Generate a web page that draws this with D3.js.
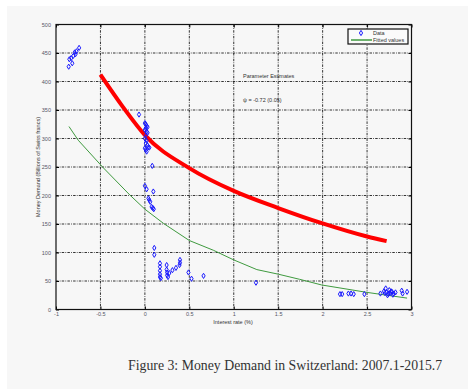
<!DOCTYPE html>
<html lang="en">
<head>
  <meta charset="UTF-8">
  <title>money demand</title>
  <script src="https://d3js.org/d3.v7.min.js"></script>
  <style>
    body { margin: 0; background: #fff; }
    .lbl { font-family: "Liberation Sans", Arial, sans-serif; }
  </style>
</head>
<body>
<svg width="468" height="391"></svg>
<script>
  // data
  var dataX = [-0.74, -0.79, -0.78, -0.805, -0.85, -0.817, -0.857, -0.83, -0.77,
    -0.066, 0, 0.01, 0.02, 0.03, 0.01, 0, 0.02, 0.03, 0.01, 0, 0.02, 0.01, 0.03, 0.04, 0, 0.01, 0.02, 0.05,
    0.083, 0, 0.02, 0.095, 0.04, 0.05, 0.06, 0.076, 0.1, 0.09,
    0.106, 0.106, 0.17, 0.17, 0.17, 0.17, 0.17, 0.18, 0.245, 0.245, 0.25, 0.25, 0.26, 0.275, 0.31, 0.35, 0.395, 0.395, 0.39, 0.49, 0.525, 0.66,
    1.25,
    2.195, 2.22, 2.29, 2.32, 2.35, 2.47, 2.65, 2.71, 2.69, 2.72, 2.74, 2.75, 2.76, 2.78, 2.8, 2.82, 2.73, 2.77, 2.79, 2.7, 2.89, 2.9, 2.95];
  var dataY = [459, 451, 448, 445, 439, 432, 426, 441, 453,
    342, 327, 325, 322, 320, 318, 315, 312, 310, 305, 300, 296, 292, 288, 285, 283, 280, 277, 284,
    252, 217, 211, 207, 195, 192, 189, 180, 176, 178,
    108, 96, 81, 75, 68, 62, 57, 55, 78, 70, 65, 60, 57, 64, 69, 73, 87, 82, 78, 65, 54, 59,
    47,
    27, 27, 28, 28, 27, 27, 28, 37, 32, 30, 27, 34, 29, 31, 28, 30, 25, 32, 26, 29, 33, 28, 31];

  var fitX = [-0.854, -0.75, -0.47, -0.17, 0, 0.21, 0.5, 0.77, 1.0, 1.26, 1.5, 1.74, 1.99, 2.5, 2.95];
  var fitY = [321, 297, 249, 201, 176, 151, 121, 104, 87, 70, 62, 53, 43, 30, 20];

  var estX = [-0.5, -0.25, 0, 0.5, 1, 1.5, 2, 2.5, 2.72];
  var estY = [412, 356, 306, 248, 208, 178, 151, 128, 120];

  var xTicks = [-1, -0.5, 0, 0.5, 1, 1.5, 2, 2.5, 3];
  var yTicks = [0, 50, 100, 150, 200, 250, 300, 350, 400, 450, 500];

  var svg = d3.select('svg');

  // page background
  svg.append('rect').attr('x', 7).attr('y', 6).attr('width', 461).attr('height', 383).attr('fill', '#f7f7f7');

  var pLeft = 56, pRight = 411.5, pTop = 24.5, pBottom = 309.5;
  var x = d3.scaleLinear().domain([-1, 3]).range([pLeft, pRight]);
  var y = d3.scaleLinear().domain([0, 500]).range([pBottom, pTop]);

  // grid
  var grid = svg.append('g').attr('stroke', '#000').attr('stroke-width', 0.8).attr('stroke-dasharray', '2.5,1.2,0.8,1.2');
  grid.selectAll('.gx').data(xTicks.slice(1, -1)).enter().append('line')
    .attr('x1', d => x(d)).attr('x2', d => x(d)).attr('y1', pTop).attr('y2', pBottom);
  grid.selectAll('.gy').data(yTicks.slice(1, -1)).enter().append('line')
    .attr('y1', d => y(d)).attr('y2', d => y(d)).attr('x1', pLeft).attr('x2', pRight);

  // axes (ticks inside, like matlab)
  var xAxis = d3.axisBottom(x).tickValues(xTicks).tickSize(-3).tickPadding(3).tickFormat(d => d);
  var yAxis = d3.axisLeft(y).tickValues(yTicks).tickSize(-3).tickPadding(5).tickFormat(d => d);
  svg.append('g').attr('transform', 'translate(0,' + pBottom + ')').call(xAxis);
  svg.append('g').attr('transform', 'translate(' + pLeft + ',0)').call(yAxis);
  svg.append('g').attr('transform', 'translate(0,' + pTop + ')')
    .call(d3.axisTop(x).tickValues(xTicks).tickSize(-3).tickFormat(''));
  svg.append('g').attr('transform', 'translate(' + pRight + ',0)')
    .call(d3.axisRight(y).tickValues(yTicks).tickSize(-3).tickFormat(''));
  svg.selectAll('.domain').remove();
  svg.selectAll('.tick line').attr('stroke', '#000').attr('stroke-width', 1);
  svg.selectAll('.tick text').attr('class', 'lbl').attr('font-size', 5.5).attr('fill', '#556');

  svg.append('rect').attr('x', pLeft).attr('y', pTop).attr('width', pRight - pLeft).attr('height', pBottom - pTop)
    .attr('fill', 'none').attr('stroke', '#111').attr('stroke-width', 1.2);

  // fitted values
  var line = d3.line().x(d => x(d[0])).y(d => y(d[1]));
  svg.append('path').datum(d3.zip(fitX, fitY)).attr('d', line)
    .attr('fill', 'none').attr('stroke', '#3f9a3f').attr('stroke-width', 1);

  // estimated curve
  svg.append('path').datum(d3.zip(estX, estY)).attr('d', line.curve(d3.curveMonotoneX))
    .attr('fill', 'none').attr('stroke', '#ff0000').attr('stroke-width', 4);

  // data points
  var diamond = 'M0,-2.6L1.6,0L0,2.6L-1.6,0Z';
  svg.append('g').selectAll('path').data(d3.zip(dataX, dataY)).enter().append('path')
    .attr('d', diamond)
    .attr('transform', d => 'translate(' + x(d[0]) + ',' + y(d[1]) + ')')
    .attr('fill', 'none').attr('stroke', '#1a1aff').attr('stroke-width', 1);

  // legend
  var lg = svg.append('g');
  lg.append('rect').attr('x', 348).attr('y', 29).attr('width', 60).attr('height', 15)
    .attr('fill', '#fafafa').attr('stroke', '#111').attr('stroke-width', 1.2);
  lg.append('path').attr('d', diamond).attr('transform', 'translate(361,33)')
    .attr('fill', 'none').attr('stroke', '#1a1aff').attr('stroke-width', 1);
  lg.append('line').attr('x1', 351).attr('x2', 372).attr('y1', 40).attr('y2', 40)
    .attr('stroke', '#3f9a3f').attr('stroke-width', 1.5);
  lg.append('text').attr('class', 'lbl').attr('x', 373).attr('y', 35).attr('font-size', 5.5).attr('fill', '#333').text('Data');
  lg.append('text').attr('class', 'lbl').attr('x', 373).attr('y', 42).attr('font-size', 5.5).attr('fill', '#333').text('Fitted values');

  // annotations
  svg.append('text').attr('class', 'lbl').attr('x', 243).attr('y', 78).attr('font-size', 5.5).attr('fill', '#333').text('Parameter Estimates');
  svg.append('text').attr('class', 'lbl').attr('x', 243).attr('y', 102).attr('font-size', 5.5).attr('fill', '#333').text('ψ = -0.72 (0.05)');

  // axis labels
  svg.append('text').attr('class', 'lbl').attr('x', 233).attr('y', 324).attr('text-anchor', 'middle')
    .attr('font-size', 5.5).attr('fill', '#333').text('Interest rate (%)');
  svg.append('text').attr('class', 'lbl').attr('transform', 'translate(40,' + ((pTop + pBottom) / 2) + ') rotate(-90)')
    .attr('text-anchor', 'middle').attr('font-size', 5.5).attr('fill', '#333')
    .text('Money Demand (Billions of Swiss francs)');

  // caption
  svg.append('text').attr('x', 128).attr('y', 370)
    .style('font-family', '"Liberation Serif", "DejaVu Serif", serif').attr('font-size', 13.8).attr('fill', '#333')
    .text('Figure 3: Money Demand in Switzerland: 2007.1-2015.7');
</script>
</body>
</html>
